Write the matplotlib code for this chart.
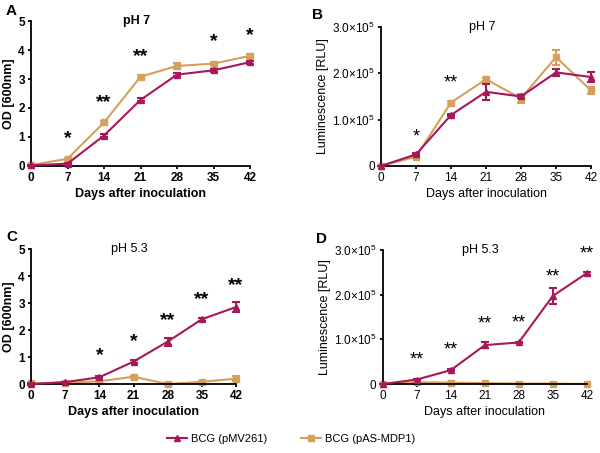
import numpy as np
import matplotlib
matplotlib.use('Agg')
import matplotlib.pyplot as plt
from matplotlib.ticker import FuncFormatter
from matplotlib.lines import Line2D

plt.rcParams['font.family'] = ['Liberation Sans', 'DejaVu Sans']
plt.rcParams['mathtext.default'] = 'regular'

days = [0, 7, 14, 21, 28, 35, 42]

# A: OD pH 7
a_mv = [0.02, 0.08, 1.05, 2.28, 3.15, 3.30, 3.58]
a_mv_err = [0.02, 0.03, 0.05, 0.05, 0.06, 0.05, 0.05]
a_mdp = [0.03, 0.25, 1.50, 3.08, 3.45, 3.53, 3.80]
a_mdp_err = [0.02, 0.04, 0.05, 0.05, 0.10, 0.05, 0.06]
a_stars = {7: (0.95, '*'), 14: (2.2, '**'), 21: (3.77, '**'), 35: (4.29, '*'), 42: (4.5, '*')}

# B: luminescence pH 7
b_mv = [0.0, 0.25e5, 1.10e5, 1.60e5, 1.50e5, 2.02e5, 1.92e5]
b_mv_err = [0.0, 0.02e5, 0.03e5, 0.17e5, 0.04e5, 0.08e5, 0.10e5]
b_mdp = [0.0, 0.20e5, 1.37e5, 1.87e5, 1.46e5, 2.35e5, 1.63e5]
b_mdp_err = [0.0, 0.02e5, 0.03e5, 0.03e5, 0.10e5, 0.16e5, 0.08e5]
b_stars = {7: (0.63e5, '*'), 14: (1.8e5, '**')}

# C: OD pH 5.3
c_mv = [0.0, 0.07, 0.25, 0.83, 1.57, 2.40, 2.85]
c_mv_err = [0.02, 0.02, 0.03, 0.05, 0.15, 0.05, 0.20]
c_mdp = [0.02, 0.05, 0.10, 0.27, 0.0, 0.08, 0.20]
c_mdp_err = [0.02, 0.02, 0.03, 0.04, 0.02, 0.04, 0.10]
c_stars = {14: (1.04, '*'), 21: (1.57, '*'), 28: (2.35, '**'), 35: (3.14, '**'), 42: (3.64, '**')}

# D: luminescence pH 5.3
d_mv = [0.0, 0.10e5, 0.31e5, 0.87e5, 0.93e5, 1.97e5, 2.48e5]
d_mv_err = [0.0, 0.01e5, 0.02e5, 0.07e5, 0.02e5, 0.17e5, 0.03e5]
d_mdp = [0.0, 0.04e5, 0.03e5, 0.02e5, 0.01e5, 0.01e5, 0.0]
d_mdp_err = [0.0, 0.01e5, 0.01e5, 0.01e5, 0.01e5, 0.01e5, 0.0]
d_stars = {7: (0.54e5, '**'), 14: (0.76e5, '**'), 21: (1.34e5, '**'), 28: (1.36e5, '**'),
           35: (2.4e5, '**'), 42: (2.91e5, '**')}

col_mv = '#A8175A'
col_mdp = '#D4A05C'

fig = plt.figure(figsize=(6, 4.53), dpi=100)


def lum_fmt(v, pos):
    if v == 0:
        return '0'
    return '%.1f×10$^{5}$' % (v / 1e5)


def panel(rect, mv, mv_err, mdp, mdp_err, stars, title, ylabel, ymax, yticks, bold, lum,
          title_bold=None):
    ax = fig.add_axes(rect)
    w = 'bold' if bold else 'normal'
    tw = w if title_bold is None else ('bold' if title_bold else 'normal')
    ax.errorbar(days, mv, yerr=mv_err, color=col_mv, marker='^', ms=5, lw=1.5,
                capsize=3, elinewidth=1.5, capthick=1.5, clip_on=False, zorder=3)
    ax.errorbar(days, mdp, yerr=mdp_err, color=col_mdp, marker='s', ms=5, lw=1.5,
                capsize=3, elinewidth=1.5, capthick=1.5, clip_on=False, zorder=2)
    for d, (y, s) in stars.items():
        ax.text(d, y, s, ha='center', va='center', fontsize=14 if bold else 13, fontweight=w)
    ax.set_xlim(0, 42)
    ax.set_ylim(0, ymax)
    ax.set_xticks(days)
    ax.set_yticks(yticks)
    if lum:
        ax.yaxis.set_major_formatter(FuncFormatter(lum_fmt))
    ax.spines['top'].set_visible(False)
    ax.spines['right'].set_visible(False)
    ax.spines['left'].set_linewidth(1.3)
    ax.spines['bottom'].set_linewidth(1.3)
    ax.tick_params(width=1.3, length=2.5, pad=2, labelsize=8.5)
    for lb in ax.get_xticklabels() + ax.get_yticklabels():
        lb.set_fontweight(w)
    ax.set_xlabel('Days after inoculation', fontsize=9, fontweight=w, labelpad=3)
    ax.set_ylabel(ylabel, fontsize=9, fontweight=w, labelpad=2)
    ax.text(0.48, 1.0, title, transform=ax.transAxes, ha='center', va='center',
            fontsize=9, fontweight=tw)
    return ax


axA = panel([0.0517, 0.6336, 0.365, 0.320], a_mv, a_mv_err, a_mdp, a_mdp_err, a_stars,
            'pH 7', 'OD [600nm]', 5, [0, 1, 2, 3, 4, 5], True, False)
axB = panel([0.635, 0.6336, 0.35, 0.3068], b_mv, b_mv_err, b_mdp, b_mdp_err, b_stars,
            'pH 7', 'Luminescence [RLU]', 3e5, [0, 1e5, 2e5, 3e5], False, True)
axC = panel([0.0517, 0.1523, 0.3417, 0.298], c_mv, c_mv_err, c_mdp, c_mdp_err, c_stars,
            'pH 5.3', 'OD [600nm]', 5, [0, 1, 2, 3, 4, 5], True, False, title_bold=False)
axD = panel([0.638, 0.1523, 0.34, 0.296], d_mv, d_mv_err, d_mdp, d_mdp_err, d_stars,
            'pH 5.3', 'Luminescence [RLU]', 3e5, [0, 1e5, 2e5, 3e5], False, True)

fig.text(0.01, 0.992, 'A', fontsize=11, fontweight='bold', va='top')
fig.text(0.52, 0.982, 'B', fontsize=11, fontweight='bold', va='top')
fig.text(0.01, 0.492, 'C', fontsize=11, fontweight='bold', va='top')
fig.text(0.527, 0.487, 'D', fontsize=11, fontweight='bold', va='top')

handles = [Line2D([], [], color=col_mv, marker='^', ms=5, lw=1.5),
           Line2D([], [], color=col_mdp, marker='s', ms=5, lw=1.5)]
labels = ['BCG (pMV261)', 'BCG (pAS-MDP1)']
fig.legend(handles, labels, loc='center', bbox_to_anchor=(0.485, 0.031), ncol=2,
           frameon=False, fontsize=8, columnspacing=3, handlelength=1.8, handletextpad=0.4)

fig.savefig('out.png', dpi=100)
